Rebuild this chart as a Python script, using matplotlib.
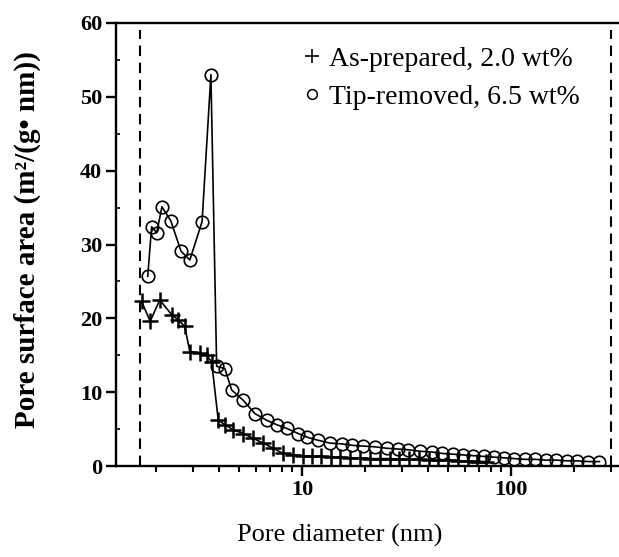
import matplotlib
matplotlib.use("Agg")
import matplotlib.pyplot as plt
from matplotlib.lines import Line2D
from matplotlib.ticker import FixedLocator, NullFormatter

# ---- data ----
d_tip = [1.83, 1.91, 2.02, 2.14, 2.36, 2.64, 2.91, 3.33, 3.67, 3.91, 4.28, 4.61, 5.24, 5.96,
         6.78, 7.57, 8.45, 9.6, 10.6, 11.9, 13.6, 15.5, 17.4, 19.6, 22.3, 25.5, 28.8, 32.2,
         36.7, 41.8, 47, 53, 59, 66, 74, 83, 93, 104, 117, 131, 147, 165, 186, 208, 235, 265]
s_tip = [25.7, 32.4, 31.6, 35.1, 33.2, 29.1, 27.9, 33.1, 53.0, 13.5, 13.2, 10.3, 8.9, 7.1,
         6.2, 5.6, 5.1, 4.4, 3.9, 3.5, 3.1, 3.0, 2.8, 2.7, 2.6, 2.4, 2.3, 2.2,
         2.0, 1.9, 1.7, 1.6, 1.5, 1.4, 1.3, 1.2, 1.1, 1.0, 0.9, 0.9, 0.8, 0.8, 0.7, 0.7, 0.6, 0.6]

d_asp = [1.71, 1.88, 2.09, 2.38, 2.56, 2.75, 2.91, 3.25, 3.50, 3.70, 3.98, 4.28, 4.69, 5.24,
         5.84, 6.53, 7.29, 8.13, 9.08, 10.1, 11.2, 12.4, 13.8, 15.3, 17.0, 19.0, 21.2, 23.6,
         26.3, 29.3, 32.6, 36.3, 40.4, 45.0, 50.0, 55.7, 62.0, 69.0, 76.0]
s_asp = [22.3, 19.6, 22.5, 20.5, 19.8, 18.9, 15.5, 15.3, 15.0, 14.1, 6.2, 5.6, 4.9, 4.4,
         3.75, 3.1, 2.4, 1.7, 1.5, 1.4, 1.3, 1.3, 1.2, 1.2, 1.1, 1.1, 1.0, 1.0,
         1.0, 0.9, 0.9, 0.9, 0.8, 0.8, 0.8, 0.7, 0.7, 0.6, 0.6]

dashed_limits = [1.68, 300]
label_asp = "As-prepared, 2.0 wt%"
label_tip = "Tip-removed, 6.5 wt%"
xlabel = "Pore diameter (nm)"
ylabel = "Pore surface area (m\u00b2/(g\u2022 nm))"
yticks = [0, 10, 20, 30, 40, 50, 60]

serif = ["Liberation Serif", "DejaVu Serif"]
plt.rcParams["font.family"] = serif

fig = plt.figure(figsize=(6.19, 5.57), dpi=100)
ax = fig.add_axes([116 / 619, 1 - 466 / 557, 1 - 116 / 619, (466 - 23) / 557])

ax.plot(d_asp, s_asp, color="black", lw=1.2, marker="+", ms=11, mew=1.8, zorder=3)
ax.plot(d_tip, s_tip, color="black", lw=1.2, marker="o", ms=9, mew=1.2,
        mfc="none", mec="black", zorder=4)

ax.vlines(dashed_limits, 0, 59, colors="black", linestyles=(0, (5, 3.2)), lw=1.5)

ax.set_xscale("log")
ax.set_xlim(1.29, 329)
ax.set_ylim(0, 60)

ax.set_yticks(yticks)
ax.yaxis.set_minor_locator(FixedLocator([5, 15, 25, 35, 45, 55]))
ax.xaxis.set_major_locator(FixedLocator([10, 100]))
ax.xaxis.set_minor_locator(FixedLocator([2, 3, 4, 5, 6, 7, 8, 9, 20, 30, 40, 50, 60, 70, 80, 90, 200, 300]))
ax.xaxis.set_minor_formatter(NullFormatter())
ax.set_xticklabels(["10", "100"])

ax.tick_params(axis="both", which="major", direction="out", length=7, width=1.7,
               labelsize=16, pad=3)
ax.tick_params(axis="x", which="minor", direction="out", length=4, width=1.5)
ax.tick_params(axis="y", which="minor", direction="in", length=3, width=1.2)
for lab in ax.get_xticklabels() + ax.get_yticklabels():
    lab.set_fontweight("bold")

for sp in ["left", "bottom", "top"]:
    ax.spines[sp].set_linewidth(1.7)
ax.spines["right"].set_visible(False)

fig.text(340 / 619, 1 - 535 / 557, xlabel, ha="center", va="center", fontsize=19)
fig.text(27 / 619, 1 - 240 / 557, ylabel, ha="center", va="center", fontsize=21,
         fontweight="bold", rotation=90, family=serif)

handles = [Line2D([], [], ls="none", marker="+", ms=10, mew=1.2, color="black"),
           Line2D([], [], ls="none", marker="o", ms=7, mew=1.1, mfc="none", mec="black")]
ax.legend(handles, [label_asp, label_tip], loc="upper right", bbox_to_anchor=(0.955, 0.985),
          frameon=False, fontsize=20, handlelength=0.6, handletextpad=0.3,
          labelspacing=0.45, borderaxespad=0.2)

fig.savefig("out.png", dpi=100)
